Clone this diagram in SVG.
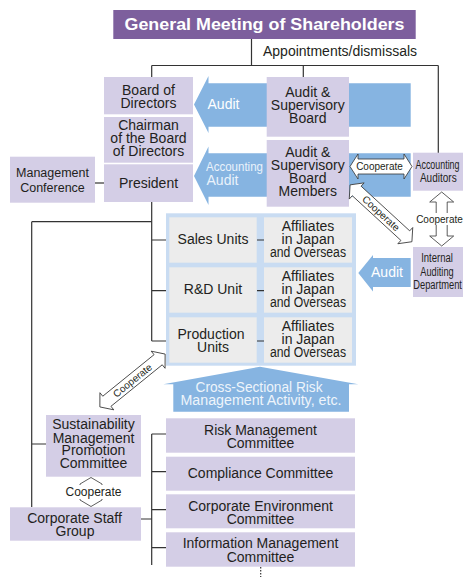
<svg xmlns="http://www.w3.org/2000/svg" width="463" height="577" viewBox="0 0 463 577">
<style>
.t{font-family:"Liberation Sans",Arial,sans-serif;font-size:14px;fill:#231f20;text-anchor:middle}
.w{fill:#ffffff}
.n{font-size:12.5px}
.c{font-family:"Liberation Sans",Arial,sans-serif;font-size:10px;fill:#231f20;text-anchor:middle}
.lav{fill:#d4cee6}
.cell{fill:#ececec}
.blue{fill:#86b4e1}
.ln{stroke:#333;stroke-width:1.2;fill:none}
.dbl{fill:#fff;stroke:#333;stroke-width:0.8}
</style>
<defs>
<path id="dh" d="M-31,0 L-23,-12.5 L-23,-7.5 L23,-7.5 L23,-12.5 L31,0 L23,12.5 L23,7.5 L-23,7.5 L-23,12.5 Z"/>
<path id="dd" d="M-42,0 L-33,-11 L-33,-6.5 L33,-6.5 L33,-11 L42,0 L33,11 L33,6.5 L-33,6.5 L-33,11 Z"/>
<path id="dv" d="M-27,0 L-17,-12 L-17,-5.5 L17,-5.5 L17,-12 L27,0 L17,12 L17,5.5 L-17,5.5 L-17,12 Z"/>
</defs>

<g id="connectors">
<path class="ln" d="M251.5,39 V65.5 M151.7,65.5 H438.3 M151.7,65.5 V77 M303.3,65.5 V77 M438.3,65.5 V153"/>
<path class="ln" d="M95,183 H104"/>
<path class="ln" d="M151.7,202 V341 M151.7,240 H169 M151.7,290.7 H169 M151.7,341 H169"/>
<path class="ln" d="M31.7,221.7 H151.7 M31.7,221.7 V507 M31.7,444 H46"/>
<path class="ln" d="M257,240 H264 M257,290.7 H264 M257,341 H264"/>
<path class="ln" d="M141,519 H151.7 M151.7,434 V565 M151.7,434 H166 M151.7,471.7 H166 M151.7,509.7 H166 M151.7,547.7 H166"/>
<path d="M260.7,567 V577" stroke="#333" stroke-width="1.2" stroke-dasharray="1.5,1.5"/>
</g>

<g id="audit-arrow-1">
<path class="blue" d="M194,104.5 L208.5,76 L208.5,83.3 L410.7,83.3 L410.7,126.7 L208.5,126.7 L208.5,133 Z"/>
<text class="t w" x="223.5" y="109">Audit</text>
</g>
<g id="accounting-audit-arrow">
<path class="blue" d="M194,176 L208.5,146.5 L208.5,153.3 L410.7,153.3 L410.7,196.7 L208.5,196.7 L208.5,205 Z"/>
<text class="t" x="234.5" y="171" style="fill:#eaf2fb;font-size:13px" textLength="57" lengthAdjust="spacingAndGlyphs">Accounting</text>
<text class="t" x="222.5" y="185" style="fill:#eaf2fb">Audit</text>
</g>
<g id="audit-arrow-3">
<path class="blue" d="M358.3,273 L373,255 L373,258 L410.7,258 L410.7,287 L373,287 L373,291.5 Z"/>
<text class="t w" x="387" y="277">Audit</text>
</g>
<g id="risk-arrow">
<path class="blue" d="M260,366.7 L358.3,384.3 L349,384.3 L349,411.7 L173.3,411.7 L173.3,384.3 L163.3,384.3 Z"/>
<text class="t" x="259" y="391.7" style="fill:#eef4fb" textLength="127" lengthAdjust="spacingAndGlyphs">Cross-Sectional Risk</text>
<text class="t" x="261" y="404.8" style="fill:#eef4fb" textLength="161" lengthAdjust="spacingAndGlyphs">Management Activity, etc.</text>
</g>

<g id="gms">
<rect x="113.3" y="10" width="302.4" height="29" fill="#7d5f9d"/>
<text class="t w" x="264.5" y="30" style="font-size:17px;font-weight:bold" textLength="280" lengthAdjust="spacingAndGlyphs">General Meeting of Shareholders</text>
</g>
<text class="t" x="340" y="55.5">Appointments/dismissals</text>

<g id="board">
<rect class="lav" x="104" y="77" width="89" height="37.3"/>
<text class="t" x="148.5" y="95">Board of</text>
<text class="t" x="148.5" y="107.5">Directors</text>
</g>
<g id="chairman">
<rect class="lav" x="104" y="117" width="89" height="45.7"/>
<text class="t" x="148.5" y="130">Chairman</text>
<text class="t" x="148.5" y="142.8">of the Board</text>
<text class="t" x="148.5" y="155.7">of Directors</text>
</g>
<g id="president">
<rect class="lav" x="104" y="164.3" width="89" height="37.7"/>
<text class="t" x="148.5" y="188.3">President</text>
</g>
<g id="mgmt-conf">
<rect class="lav" x="10" y="156.7" width="85" height="46"/>
<text class="t n" x="52.5" y="177.3">Management</text>
<text class="t n" x="52.5" y="191.7">Conference</text>
</g>
<g id="asb">
<rect class="lav" x="266.7" y="77" width="82.3" height="59.7"/>
<text class="t" x="307.8" y="96.7">Audit &amp;</text>
<text class="t" x="307.8" y="110">Supervisory</text>
<text class="t" x="307.8" y="123.3">Board</text>
</g>
<g id="asbm">
<rect class="lav" x="266.7" y="140" width="82.3" height="66.7"/>
<text class="t" x="307.8" y="157.3">Audit &amp;</text>
<text class="t" x="307.8" y="170.3">Supervisory</text>
<text class="t" x="307.8" y="183.3">Board</text>
<text class="t" x="307.8" y="196.3">Members</text>
</g>
<g id="acc-auditors">
<rect class="lav" x="413" y="152.7" width="50" height="38"/>
<text class="t" x="437.5" y="169.3" style="font-size:12.5px" textLength="44" lengthAdjust="spacingAndGlyphs">Accounting</text>
<text class="t" x="438.3" y="181.8" style="font-size:12.5px" textLength="36.7" lengthAdjust="spacingAndGlyphs">Auditors</text>
</g>
<g id="internal-audit">
<rect class="lav" x="413" y="247" width="50" height="50"/>
<text class="t" x="437" y="262" style="font-size:12.5px" textLength="31.7" lengthAdjust="spacingAndGlyphs">Internal</text>
<text class="t" x="437" y="275.5" style="font-size:12.5px" textLength="33.3" lengthAdjust="spacingAndGlyphs">Auditing</text>
<text class="t" x="437.6" y="289" style="font-size:12.5px" textLength="48.7" lengthAdjust="spacingAndGlyphs">Department</text>
</g>

<g id="coop-h">
<use href="#dh" class="dbl" transform="translate(381,166.5)"/>
<text class="c" x="379.5" y="169.8">Cooperate</text>
</g>
<g id="coop-diag-1">
<g transform="translate(381,213.3) rotate(42.6)">
<use href="#dd" class="dbl"/>
<text class="c" x="0" y="3.5">Cooperate</text>
</g>
</g>
<g id="coop-v-right">
<use href="#dv" class="dbl" transform="translate(441.7,219) rotate(90)"/>
<rect x="416" y="213" width="47" height="12" fill="#fff"/>
<text class="c" x="439.5" y="222.7">Cooperate</text>
</g>

<g id="units">
<rect x="166" y="213.3" width="190" height="152.4" fill="#c9dcf2"/>
<g id="sales">
<rect class="cell" x="169.3" y="217.3" width="87.4" height="45.4"/>
<text class="t" x="213" y="244.3">Sales Units</text>
</g>
<g id="aff-1">
<rect class="cell" x="264" y="217.3" width="88" height="45.4"/>
<text class="t" x="308" y="230.7">Affiliates</text>
<text class="t" x="308" y="244.3">in Japan</text>
<text class="t" x="308" y="257.3" textLength="76" lengthAdjust="spacingAndGlyphs">and Overseas</text>
</g>
<g id="rd">
<rect class="cell" x="169.3" y="267.3" width="87.4" height="45.4"/>
<text class="t" x="213" y="294.3">R&amp;D Unit</text>
</g>
<g id="aff-2">
<rect class="cell" x="264" y="267.3" width="88" height="45.4"/>
<text class="t" x="308" y="280.7">Affiliates</text>
<text class="t" x="308" y="294.3">in Japan</text>
<text class="t" x="308" y="307.3" textLength="76" lengthAdjust="spacingAndGlyphs">and Overseas</text>
</g>
<g id="production">
<rect class="cell" x="169.3" y="317.3" width="87.4" height="45.4"/>
<text class="t" x="211" y="339.3">Production</text>
<text class="t" x="213" y="351.8">Units</text>
</g>
<g id="aff-3">
<rect class="cell" x="264" y="317.3" width="88" height="45.4"/>
<text class="t" x="308" y="330.7">Affiliates</text>
<text class="t" x="308" y="344.3">in Japan</text>
<text class="t" x="308" y="357.3" textLength="76" lengthAdjust="spacingAndGlyphs">and Overseas</text>
</g>
</g>
<path class="ln" d="M257,240 H264 M257,290.7 H264 M257,341 H264"/>

<g id="coop-diag-2">
<g transform="translate(132.5,380.5) rotate(-39)">
<use href="#dd" class="dbl"/>
<text class="c" x="0" y="3.5">Cooperate</text>
</g>
</g>

<g id="sustainability">
<rect class="lav" x="46" y="415" width="95" height="61.7"/>
<text class="t" x="93.5" y="429.3">Sustainability</text>
<text class="t" x="93.5" y="442.5">Management</text>
<text class="t" x="93.5" y="455.3">Promotion</text>
<text class="t" x="93.5" y="468.3">Committee</text>
</g>
<g id="coop-v-left">
<path class="dbl" d="M80,485 L80,484 L91,477.5 L102,484 L102,485 M80,499 L80,500 L91,506.5 L102,500 L102,499" fill="none"/>
<text class="c" x="93.5" y="495.5" style="font-size:12px">Cooperate</text>
</g>
<g id="corp-staff">
<rect class="lav" x="10" y="507.3" width="131" height="33.4"/>
<text class="t" x="74.5" y="522.7">Corporate Staff</text>
<text class="t" x="75" y="535.7">Group</text>
</g>

<g id="risk-comm">
<rect class="lav" x="166" y="418.3" width="189" height="34.4"/>
<text class="t" x="260.5" y="435">Risk Management</text>
<text class="t" x="260.5" y="447.7">Committee</text>
</g>
<g id="compliance-comm">
<rect class="lav" x="166" y="456.7" width="189" height="34"/>
<text class="t" x="260.5" y="478.3">Compliance Committee</text>
</g>
<g id="env-comm">
<rect class="lav" x="166" y="494.3" width="189" height="34"/>
<text class="t" x="260.5" y="511">Corporate Environment</text>
<text class="t" x="260.5" y="524">Committee</text>
</g>
<g id="info-comm">
<rect class="lav" x="166" y="532.3" width="189" height="34.4"/>
<text class="t" x="260.5" y="548.3">Information Management</text>
<text class="t" x="260.5" y="561.7">Committee</text>
</g>
</svg>
